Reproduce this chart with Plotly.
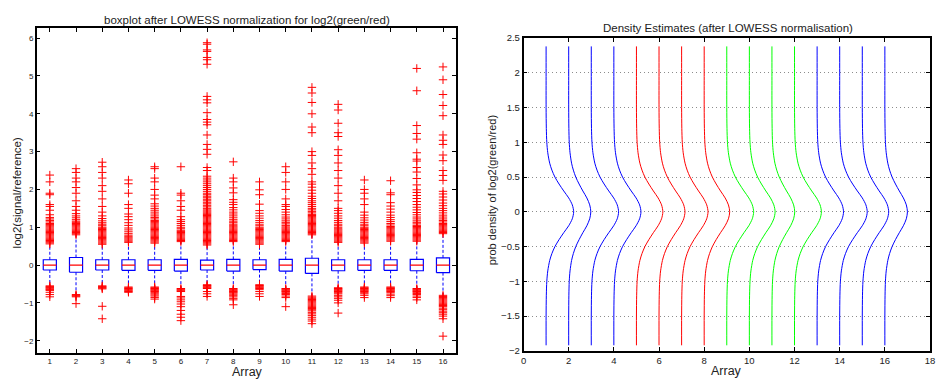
import plotly.graph_objects as go

# ---------------- boxplot data (log2 green/red after LOWESS) ----------------
arrays = list(range(1, 17))
q1 = [-0.13, -0.19, -0.13, -0.14, -0.14, -0.16, -0.13, -0.16,
      -0.12, -0.16, -0.22, -0.15, -0.14, -0.14, -0.15, -0.20]
q3 = [0.14, 0.20, 0.14, 0.14, 0.14, 0.15, 0.13, 0.15,
      0.14, 0.15, 0.18, 0.14, 0.14, 0.14, 0.15, 0.19]
medians = [0.0] * 16
whisk_hi = [0.53, 0.76, 0.53, 0.56, 0.55, 0.60, 0.51, 0.60,
            0.52, 0.60, 0.77, 0.57, 0.55, 0.56, 0.60, 0.76]
whisk_lo = [-0.52, -0.75, -0.52, -0.56, -0.55, -0.60, -0.50, -0.60,
            -0.50, -0.60, -0.80, -0.58, -0.56, -0.56, -0.60, -0.77]

outliers_hi = [
    [0.56, 0.59, 0.62, 0.65, 0.68, 0.71, 0.74, 0.77, 0.8, 0.83, 0.86, 0.89, 0.92, 0.95, 0.98, 1.01, 1.04,
     1.07, 1.1, 1.14, 1.18, 1.22, 1.26, 1.33, 1.45, 1.55, 1.6, 1.86, 1.9, 2.2, 2.38],
    [0.8, 0.83, 0.86, 0.89, 0.92, 0.95, 0.98, 1.01, 1.04, 1.07, 1.1, 1.13, 1.16, 1.2, 1.25, 1.3, 1.36,
     1.45, 1.55, 1.7, 1.9, 2.05, 2.2, 2.3, 2.45, 2.55],
    [0.55, 0.58, 0.61, 0.64, 0.67, 0.7, 0.73, 0.76, 0.79, 0.82, 0.85, 0.88, 0.91, 0.94, 0.97, 1.0, 1.04,
     1.08, 1.12, 1.17, 1.23, 1.3, 1.4, 1.55, 1.75, 1.95, 2.1, 2.3, 2.45, 2.6, 2.72],
    [0.6, 0.63, 0.66, 0.69, 0.72, 0.75, 0.79, 0.83, 0.88, 0.93, 0.98, 1.05, 1.12, 1.2, 1.28, 1.35, 1.5,
     1.6, 1.9, 2.15, 2.25],
    [0.58, 0.61, 0.64, 0.67, 0.7, 0.73, 0.76, 0.79, 0.82, 0.85, 0.88, 0.91, 0.94, 0.97, 1.0, 1.03, 1.06,
     1.09, 1.12, 1.15, 1.18, 1.22, 1.26, 1.3, 1.35, 1.4, 1.45, 1.5, 1.56, 1.62, 1.75, 1.85, 2.0, 2.2,
     2.3, 2.55, 2.6],
    [0.62, 0.65, 0.68, 0.71, 0.74, 0.77, 0.8, 0.83, 0.86, 0.89, 0.92, 0.96, 1.0, 1.05, 1.1, 1.15, 1.2,
     1.28, 1.45, 1.55, 1.7, 1.85, 1.9, 2.6],
    [0.53, 0.56, 0.59, 0.62, 0.65, 0.68, 0.71, 0.74, 0.77, 0.8, 0.83, 0.86, 0.89, 0.92, 0.95, 0.98, 1.01,
     1.04, 1.07, 1.1, 1.13, 1.16, 1.19, 1.22, 1.25, 1.28, 1.31, 1.34, 1.37, 1.4, 1.43, 1.46, 1.5, 1.54,
     1.58, 1.62, 1.66, 1.7, 1.74, 1.78, 1.82, 1.86, 1.9, 1.95, 2.0, 2.05, 2.1, 2.15, 2.2, 2.25, 2.3,
     2.35, 2.5, 2.58, 2.93, 3.06, 3.19, 3.44, 3.71, 3.78, 3.85, 4.03, 4.29, 4.37, 4.46, 5.31, 5.43,
     5.49, 5.65, 5.69, 5.84, 5.88],
    [0.62, 0.65, 0.68, 0.71, 0.74, 0.77, 0.8, 0.83, 0.86, 0.89, 0.92, 0.95, 0.98, 1.01, 1.04, 1.08, 1.12,
     1.16, 1.2, 1.25, 1.3, 1.35, 1.4, 1.46, 1.52, 1.6, 1.66, 1.73, 1.91, 2.04, 2.2, 2.3, 2.73],
    [0.55, 0.58, 0.61, 0.64, 0.67, 0.7, 0.73, 0.76, 0.79, 0.82, 0.85, 0.88, 0.91, 0.94, 0.97, 1.0, 1.04,
     1.08, 1.13, 1.18, 1.24, 1.3, 1.37, 1.44, 1.61, 1.86, 1.99, 2.2],
    [0.62, 0.65, 0.68, 0.71, 0.74, 0.77, 0.8, 0.83, 0.86, 0.89, 0.92, 0.95, 0.98, 1.01, 1.05, 1.09, 1.13,
     1.17, 1.22, 1.27, 1.33, 1.4, 1.47, 1.55, 1.6, 1.75, 2.0, 2.2, 2.45, 2.6],
    [0.8, 0.83, 0.86, 0.89, 0.92, 0.95, 0.98, 1.01, 1.04, 1.07, 1.1, 1.13, 1.16, 1.19, 1.22, 1.25, 1.28,
     1.31, 1.34, 1.38, 1.42, 1.46, 1.5, 1.55, 1.6, 1.65, 1.7, 1.76, 1.82, 1.9, 1.98, 2.06, 2.14, 2.2,
     2.4, 2.55, 2.7, 2.9, 3.0, 3.5, 3.65, 4.0, 4.3, 4.55, 4.7],
    [0.6, 0.63, 0.66, 0.69, 0.72, 0.75, 0.78, 0.81, 0.84, 0.87, 0.9, 0.93, 0.96, 1.0, 1.04, 1.08, 1.13,
     1.18, 1.24, 1.3, 1.37, 1.44, 1.5, 1.7, 1.9, 2.1, 2.3, 2.5, 2.7, 2.9, 3.05, 3.4, 3.5, 3.75, 4.1, 4.25],
    [0.58, 0.61, 0.64, 0.67, 0.7, 0.73, 0.76, 0.79, 0.82, 0.85, 0.88, 0.91, 0.94, 0.97, 1.0, 1.04, 1.08,
     1.13, 1.19, 1.25, 1.32, 1.4, 1.6, 1.75, 1.9, 2.0, 2.25],
    [0.63, 0.66, 0.69, 0.72, 0.75, 0.78, 0.81, 0.84, 0.87, 0.9, 0.93, 0.96, 0.99, 1.02, 1.06, 1.1, 1.15,
     1.2, 1.26, 1.32, 1.4, 1.48, 1.56, 1.65, 1.86, 1.91, 2.23],
    [0.63, 0.66, 0.69, 0.72, 0.75, 0.78, 0.81, 0.84, 0.87, 0.9, 0.93, 0.96, 0.99, 1.02, 1.05, 1.09, 1.13,
     1.17, 1.22, 1.27, 1.33, 1.39, 1.46, 1.53, 1.6, 1.68, 1.76, 1.84, 1.92, 1.99, 2.12, 2.29, 2.46, 2.58,
     2.75, 2.8, 2.97, 3.33, 3.48, 3.69, 4.61, 5.2],
    [0.83, 0.86, 0.89, 0.92, 0.95, 0.98, 1.01, 1.04, 1.07, 1.1, 1.14, 1.18, 1.22, 1.27, 1.32, 1.38, 1.44,
     1.5, 1.57, 1.64, 1.72, 1.8, 1.88, 1.95, 2.24, 2.37, 2.5, 2.76, 2.91, 3.19, 3.3, 3.44, 3.95, 4.22,
     4.51, 4.9, 5.24],
]

outliers_lo = [
    [-0.55, -0.57, -0.59, -0.61, -0.63, -0.65, -0.67, -0.72, -0.78, -0.84],
    [-0.78, -0.8, -0.82, -0.84, -1.02],
    [-0.55, -0.57, -0.59, -0.61, -0.63, -1.09, -1.42],
    [-0.58, -0.6, -0.62, -0.64, -0.66, -0.68, -0.7, -0.72],
    [-0.58, -0.6, -0.62, -0.64, -0.66, -0.68, -0.7, -0.73, -0.76, -0.79, -0.82, -0.86, -0.9],
    [-0.62, -0.64, -0.66, -0.68, -0.7, -0.83, -0.87, -0.92, -0.97, -1.03, -1.1, -1.2, -1.3, -1.38, -1.47],
    [-0.52, -0.54, -0.56, -0.58, -0.6, -0.62, -0.7, -0.76, -0.83],
    [-0.62, -0.64, -0.66, -0.68, -0.7, -0.72, -0.74, -0.77, -0.8, -0.84, -0.88, -0.92, -1.05],
    [-0.52, -0.54, -0.56, -0.58, -0.6, -0.62, -0.65, -0.7, -0.76, -0.83],
    [-0.62, -0.64, -0.66, -0.68, -0.7, -0.72, -0.75, -0.78, -0.82, -0.86, -1.1],
    [-0.82, -0.85, -0.88, -0.91, -0.94, -0.97, -1.0, -1.03, -1.06, -1.09, -1.12, -1.15, -1.18, -1.21,
     -1.25, -1.29, -1.33, -1.38, -1.43, -1.48, -1.55],
    [-0.6, -0.62, -0.64, -0.66, -0.68, -0.7, -0.73, -0.76, -0.8, -0.84, -0.88, -0.93, -1.0, -1.27],
    [-0.58, -0.6, -0.62, -0.64, -0.66, -0.68, -0.7, -0.73, -0.76, -0.8, -0.86],
    [-0.58, -0.6, -0.62, -0.64, -0.66, -0.68, -0.7, -0.73, -0.77, -0.81, -0.86],
    [-0.62, -0.64, -0.66, -0.68, -0.7, -0.72, -0.75, -0.78, -0.82, -0.86, -0.92],
    [-0.8, -0.83, -0.86, -0.89, -0.92, -0.95, -0.98, -1.01, -1.04, -1.07, -1.1, -1.14, -1.18, -1.22,
     -1.26, -1.3, -1.35, -1.42, -1.88],
]

# ---------------- density estimate data ----------------
density_y = [-1.92, -1.5, -1.2, -1.0, -0.85, -0.7, -0.6, -0.5, -0.4, -0.3, -0.2, -0.1, 0.0,
             0.1, 0.2, 0.3, 0.4, 0.5, 0.6, 0.7, 0.85, 1.0, 1.2, 1.5, 2.0, 2.38]
density_rel = [0.0, 0.0, 0.008, 0.025, 0.06, 0.13, 0.21, 0.32, 0.47, 0.64, 0.82, 0.95, 1.0,
               0.95, 0.82, 0.64, 0.47, 0.32, 0.21, 0.13, 0.06, 0.025, 0.008, 0.0, 0.0, 0.0]
density_peak = [1.22, 0.98, 1.21, 1.20, 1.17, 1.15, 1.17, 1.13,
                1.19, 1.14, 1.01, 1.19, 1.17, 1.22, 1.17, 1.00]
density_colors = ["#0000ff"] * 4 + ["#ff0000"] * 4 + ["#00ff00"] * 4 + ["#0000ff"] * 4

BOX_HALF = 0.25
W, H = 939, 385

fig = go.Figure()

# boxes, medians and dashed whiskers
bx, by, mx, my, wx, wy = [], [], [], [], [], []
for i, a in enumerate(arrays):
    l, r = a - BOX_HALF, a + BOX_HALF
    bx += [l, r, r, l, l, None]
    by += [q1[i], q1[i], q3[i], q3[i], q1[i], None]
    mx += [l, r, None]
    my += [medians[i], medians[i], None]
    wx += [a, a, None, a, a, None]
    wy += [q3[i], whisk_hi[i], None, q1[i], whisk_lo[i], None]

fig.add_trace(go.Scatter(x=wx, y=wy, mode="lines", xaxis="x", yaxis="y",
                         line=dict(color="#0000ff", width=1, dash="3px,2px"),
                         showlegend=False, hoverinfo="skip"))
fig.add_trace(go.Scatter(x=bx, y=by, mode="lines", xaxis="x", yaxis="y",
                         line=dict(color="#0000ff", width=1.2),
                         showlegend=False, hoverinfo="skip"))
fig.add_trace(go.Scatter(x=mx, y=my, mode="lines", xaxis="x", yaxis="y",
                         line=dict(color="#ff0000", width=1.2),
                         showlegend=False, hoverinfo="skip"))

# outliers
ox, oy = [], []
for i, a in enumerate(arrays):
    for v in outliers_hi[i] + outliers_lo[i]:
        ox.append(a)
        oy.append(v)
fig.add_trace(go.Scatter(x=ox, y=oy, mode="markers", xaxis="x", yaxis="y",
                         marker=dict(symbol="cross-thin", size=6, color="#ff0000",
                                     line=dict(color="#ff0000", width=1)),
                         showlegend=False, hoverinfo="skip"))

# density curves, each offset to its array position
for i, a in enumerate(arrays):
    xs = [a + density_peak[i] * d for d in density_rel]
    fig.add_trace(go.Scatter(x=xs, y=density_y, mode="lines", xaxis="x2", yaxis="y2",
                             line=dict(color=density_colors[i], width=1, shape="spline", smoothing=0.8),
                             showlegend=False, hoverinfo="skip"))

axis_common = dict(showline=True, linecolor="black", linewidth=1.5, mirror="ticks",
                   ticks="inside", ticklen=4, tickcolor="black", zeroline=False,
                   showgrid=False, fixedrange=True, ticklabeloverflow="allow")

fig.update_layout(
    width=W, height=H,
    margin=dict(l=0, r=0, t=0, b=0),
    paper_bgcolor="white", plot_bgcolor="white",
    font=dict(family="Liberation Sans, Arial, sans-serif", color="black"),
    xaxis=dict(domain=[34 / W, 457 / W], range=[0.5, 16.5], tickvals=arrays,
               tickfont=dict(size=8, color="#222"), anchor="y", **axis_common),
    yaxis=dict(domain=[1 - 357 / H, 1 - 23 / H], range=[-2.32, 6.26], tickvals=list(range(-2, 7)),
               tickfont=dict(size=8, color="#222"), anchor="x", **axis_common),
    xaxis2=dict(domain=[525 / W, 935 / W], range=[0, 18], tickvals=list(range(0, 19, 2)),
                tickfont=dict(size=9.5, color="#222"), anchor="y2", **axis_common),
    yaxis2=dict(domain=[1 - 355 / H, 1 - 33 / H], range=[-2, 2.5],
                tickvals=[-2, -1.5, -1, -0.5, 0, 0.5, 1, 1.5, 2, 2.5],
                tickfont=dict(size=9.5, color="#222"), anchor="x2", **axis_common),
)
fig.update_layout(yaxis2=dict(showgrid=True, gridcolor="#8c8c8c", griddash="1px,3px", gridwidth=1))

annotations = [
    dict(text="boxplot after LOWESS normalization for log2(green/red)", x=246, y=14, size=11.5),
    dict(text="Density Estimates (after LOWESS normalisation)", x=731, y=22.5, size=11.5),
    dict(text="Array", x=247, y=377, size=12.5),
    dict(text="Array", x=730, y=376, size=12.5),
    dict(text="log2(signal/reference)", x=14, y=192, size=11.5, angle=-90),
    dict(text="prob density of log2(green/red)", x=493, y=190, size=11, angle=-90),
]
for a in annotations:
    fig.add_annotation(text=a["text"], x=a["x"] / W, y=1 - a["y"] / H, xref="paper", yref="paper",
                       xanchor="center", yanchor="middle", showarrow=False,
                       textangle=a.get("angle", 0), font=dict(size=a["size"], color="#222"))

fig.write_html("out.html")
